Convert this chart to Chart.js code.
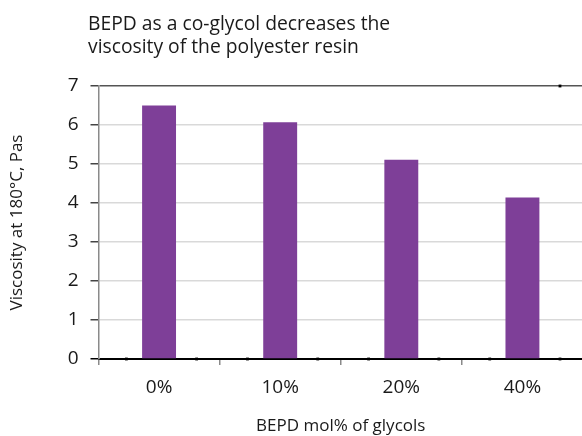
<!DOCTYPE html>
<html>
<head>
<meta charset="utf-8">
<script src="https://cdn.jsdelivr.net/npm/chart.js@4.4.1/dist/chart.umd.min.js"></script>
<style>
  html, body { margin: 0; padding: 0; background: #fff; overflow: hidden; }
  #wrap { position: relative; width: 582px; height: 436px; overflow: hidden; }
  #c { display: block; }
</style>
</head>
<body>
<div id="wrap"><canvas id="c" width="587" height="436"></canvas></div>
<script>
// ---- data ----
const titleLines = ['BEPD as a co-glycol decreases the', 'viscosity of the polyester resin'];
const categories = ['0%', '10%', '20%', '40%'];
const viscosity = [6.5, 6.07, 5.11, 4.14];
const yTicks = [0, 1, 2, 3, 4, 5, 6, 7];
const xAxisTitle = 'BEPD mol% of glycols';
const yAxisTitle = 'Viscosity at 180°C, Pas';
// small black markers seen in the picture (category units, value units)
const markerX = [-0.27, 0.31, 0.73, 1.31, 1.73, 2.31, 2.73, 3.31, 3.31];
const markerY = [0, 0, 0, 0, 0, 0, 0, 0, 7];

const FONT = "'Open Sans', 'Noto Sans', sans-serif";
const TEXT = '#1a1a1a';

const titlePlugin = {
  id: 'leftTitle',
  afterDraw(chart) {
    const ctx = chart.ctx;
    ctx.save();
    ctx.fillStyle = TEXT;
    ctx.font = "19.3px " + FONT;
    ctx.textBaseline = 'alphabetic';
    ctx.textAlign = 'left';
    titleLines.forEach((t, i) => ctx.fillText(t, 88, 30 + i * 23));
    ctx.restore();
  }
};

new Chart(document.getElementById('c'), {
  type: 'bar',
  data: {
    labels: categories,
    datasets: [
      {
        label: 'Viscosity',
        data: viscosity,
        backgroundColor: '#7e3f98',
        borderWidth: 0,
        grouped: false,
        categoryPercentage: 1,
        barPercentage: 0.28,
        order: 2
      },
      {
        type: 'line',
        label: 'markers',
        data: markerX.map((x, i) => ({ x: x, y: markerY[i] })),
        xAxisID: 'xd',
        showLine: false,
        pointStyle: 'rect',
        pointRadius: 2,
        pointBackgroundColor: '#000',
        pointBorderWidth: 0,
        clip: false,
        order: 1
      }
    ]
  },
  plugins: [titlePlugin],
  options: {
    responsive: false,
    animation: false,
    devicePixelRatio: 1,
    layout: { padding: { top: 86, right: 0, left: 0, bottom: 0 } },
    plugins: {
      legend: { display: false },
      tooltip: { enabled: false },
      title: { display: false }
    },
    scales: {
      x: {
        type: 'category',
        offset: true,
        grid: {
          offset: true,
          drawOnChartArea: false,
          drawTicks: true,
          tickLength: 6,
          color: '#8a8a8a',
          lineWidth: 1.5
        },
        border: { display: true, color: '#000', width: 1 },
        ticks: {
          color: TEXT,
          font: { family: FONT, size: 19 },
          padding: 11,
          maxRotation: 0
        },
        title: {
          display: true,
          text: xAxisTitle,
          color: TEXT,
          font: { family: FONT, size: 17 },
          padding: { top: 0, bottom: 0 }
        },
        afterFit(scale) { scale.height = 77; }
      },
      xd: {
        type: 'linear',
        display: false,
        offset: false,
        grid: { offset: false },
        min: -0.5,
        max: 3.5
      },
      y: {
        min: 0,
        max: 7,
        afterBuildTicks(scale) { scale.ticks = yTicks.map(v => ({ value: v })); },
        grid: {
          drawTicks: true,
          tickLength: 8,
          color: (c) => c.tick && c.tick.value === 0 ? '#000' : (c.tick && c.tick.value === 7 ? '#555' : '#d9d9d9'),
          tickColor: (c) => c.tick && c.tick.value === 0 ? '#000' : '#444',
          lineWidth: 1.5
        },
        border: { display: true, color: '#8a8a8a', width: 1.5 },
        ticks: {
          color: TEXT,
          font: { family: FONT, size: 19 },
          padding: 12
        },
        title: {
          display: true,
          text: yAxisTitle,
          color: TEXT,
          font: { family: FONT, size: 17 },
          padding: { top: 7, bottom: 0 }
        },
        afterFit(scale) { scale.width = 98.5; }
      }
    }
  }
});
</script>
</body>
</html>
